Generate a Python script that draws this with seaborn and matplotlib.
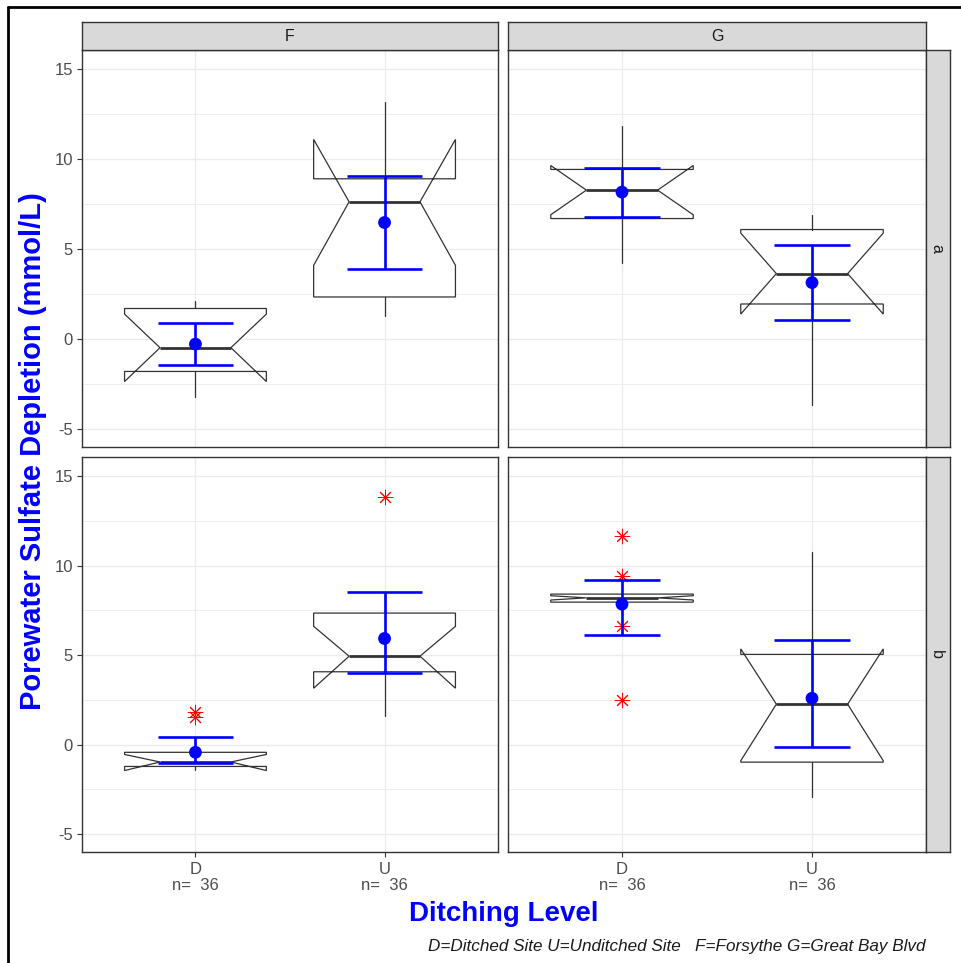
import numpy as np
import pandas as pd
import matplotlib
matplotlib.use("Agg")
import matplotlib.pyplot as plt
import seaborn as sns
from matplotlib.lines import Line2D
from matplotlib.ticker import MultipleLocator, FixedLocator

# ---------------- data ----------------
sites = ["F", "G"]            # facet columns
groups = ["a", "b"]           # facet rows
levels = ["D", "U"]           # x categories
n_obs = [36, 36]

# order: (a,F,D),(a,F,U),(a,G,D),(a,G,U),(b,F,D),(b,F,U),(b,G,D),(b,G,U)
panel_group = ["a", "a", "a", "a", "b", "b", "b", "b"]
panel_site = ["F", "F", "G", "G", "F", "F", "G", "G"]
panel_level = ["D", "U", "D", "U", "D", "U", "D", "U"]

whislo = [-3.23, 1.30, 4.23, -3.66, -1.40, 1.61, 7.96, -2.90]
q1 =     [-1.80, 2.34, 6.70, 1.95, -1.22, 4.07, 7.96, -0.98]
cilo =   [-2.36, 4.10, 6.91, 1.39, -1.45, 3.15, 8.08, -0.90]
median = [-0.48, 7.63, 8.28, 3.64, -0.97, 4.94, 8.20, 2.26]
cihi =   [1.39, 11.10, 9.65, 5.89, -0.55, 6.61, 8.32, 5.35]
q3 =     [1.70, 8.91, 9.43, 6.09, -0.43, 7.35, 8.41, 5.04]
whishi = [2.13, 13.18, 11.84, 6.89, 0.30, 8.30, 8.41, 10.78]
outliers = [[], [], [], [], [1.55, 1.82], [13.83], [11.65, 9.40, 6.65, 2.48], []]

mean_val = [-0.28, 6.48, 8.17, 3.14, -0.43, 5.93, 7.85, 2.59]
err_low =  [-1.43, 3.90, 6.76, 1.04, -1.00, 3.98, 6.13, -0.15]
err_high = [0.87, 9.08, 9.53, 5.25, 0.41, 8.52, 9.22, 5.82]

y_ticks = [-5, 0, 5, 10, 15]

df = pd.DataFrame({
    "group": panel_group, "site": panel_site, "level": panel_level,
    "whislo": whislo, "q1": q1, "cilo": cilo, "med": median, "cihi": cihi,
    "q3": q3, "whishi": whishi, "mean": mean_val, "lo": err_low, "hi": err_high,
})
df["fliers"] = outliers
df["pos"] = df["level"].map({lv: i + 1 for i, lv in enumerate(levels)})

# ---------------- styling ----------------
sns.set_theme(style="white")
plt.rcParams["font.family"] = ["Liberation Sans", "DejaVu Sans"]

W, H = 961, 963
fig = plt.figure(figsize=(W / 100, H / 100), dpi=100)


def rect(x0, y0, x1, y1):
    return [x0 / W, 1 - y1 / H, (x1 - x0) / W, (y1 - y0) / H]


col_px = {"F": (82, 498), "G": (508, 926)}
row_px = {"a": (50, 447), "b": (457, 852)}
EDGE = "#333333"
GRID = "#EBEBEB"
BLUE = "#0000FF"

for gi, g in enumerate(groups):
    for si, s in enumerate(sites):
        x0, x1 = col_px[s]
        y0, y1 = row_px[g]
        ax = fig.add_axes(rect(x0, y0, x1, y1))
        sub = df[(df["group"] == g) & (df["site"] == s)]

        stats = []
        for _, r in sub.iterrows():
            stats.append(dict(med=r["med"], q1=r["q1"], q3=r["q3"],
                              whislo=r["whislo"], whishi=r["whishi"],
                              cilo=r["cilo"], cihi=r["cihi"],
                              fliers=np.array(r["fliers"], dtype=float)))
        ax.bxp(stats, positions=list(sub["pos"]), widths=0.75,
               shownotches=True, showcaps=False, patch_artist=True,
               boxprops=dict(facecolor="white", edgecolor=EDGE, linewidth=0.9),
               whiskerprops=dict(color=EDGE, linewidth=0.9),
               medianprops=dict(color=EDGE, linewidth=2.0),
               flierprops=dict(marker=(8, 2, 0), markeredgecolor="red",
                               markerfacecolor="red", markersize=11,
                               markeredgewidth=0.7, linestyle="none"))

        # mean +/- error bars
        ax.vlines(sub["pos"], sub["lo"], sub["hi"], color=BLUE, lw=1.9, zorder=4)
        ax.hlines(sub["lo"], sub["pos"] - 0.2, sub["pos"] + 0.2, color=BLUE, lw=1.9, zorder=4)
        ax.hlines(sub["hi"], sub["pos"] - 0.2, sub["pos"] + 0.2, color=BLUE, lw=1.9, zorder=4)
        sns.scatterplot(data=sub, x="pos", y="mean", color=BLUE, s=85,
                        edgecolor="none", ax=ax, zorder=5, legend=False)

        ax.set_xlim(0.4, 2.6)
        ax.set_ylim(-6.0, 16.07)
        ax.set_xlabel("")
        ax.set_ylabel("")
        ax.set_facecolor("white")
        ax.set_axisbelow(True)
        ax.xaxis.set_major_locator(FixedLocator([1, 2]))
        ax.yaxis.set_major_locator(FixedLocator(y_ticks))
        ax.yaxis.set_minor_locator(MultipleLocator(2.5))
        ax.grid(which="major", color=GRID, lw=1.0)
        ax.grid(which="minor", axis="y", color=GRID, lw=0.6)
        for sp in ax.spines.values():
            sp.set_color(EDGE)
            sp.set_linewidth(1.0)
        ax.tick_params(which="minor", length=0)
        ax.tick_params(which="major", length=3.5, width=0.8, color=EDGE,
                       labelcolor="#4D4D4D", labelsize=12, pad=3)

        if si == 0:
            ax.set_yticks(y_ticks)
            ax.set_yticklabels([str(t) for t in y_ticks])
            ax.tick_params(axis="y", left=True, labelleft=True)
        else:
            ax.tick_params(axis="y", left=False, labelleft=False)
        if gi == 1:
            ax.set_xticks([1, 2])
            ax.set_xticklabels([f"{lv}\nn=  {n}" for lv, n in zip(levels, n_obs)],
                               linespacing=1.05)
            ax.tick_params(axis="x", bottom=True, labelbottom=True, pad=4)
        else:
            ax.tick_params(axis="x", bottom=False, labelbottom=False)

        # top strip
        if gi == 0:
            st = fig.add_axes(rect(x0, 22, x1, 50))
            st.set_facecolor("#D9D9D9")
            st.set_xticks([]); st.set_yticks([])
            for sp in st.spines.values():
                sp.set_color(EDGE); sp.set_linewidth(1.0)
            st.text(0.5, 0.5, s, ha="center", va="center", fontsize=11.5,
                    color="#1A1A1A", transform=st.transAxes)
        # right strip
        if si == 1:
            st = fig.add_axes(rect(926, y0, 950, y1))
            st.set_facecolor("#D9D9D9")
            st.set_xticks([]); st.set_yticks([])
            for sp in st.spines.values():
                sp.set_color(EDGE); sp.set_linewidth(1.0)
            st.text(0.45, 0.5, g, ha="center", va="center", fontsize=11.5,
                    rotation=-90, color="#1A1A1A", transform=st.transAxes)

# axis titles and caption
fig.text(33 / W, 1 - 451 / H, "Porewater Sulfate Depletion (mmol/L)", rotation=90,
         ha="center", va="center", color=BLUE, fontsize=21, fontweight="bold")
fig.text(504 / W, 1 - 914 / H, "Ditching Level", ha="center", va="center",
         color=BLUE, fontsize=20, fontweight="bold")
fig.text(926 / W, 1 - 946 / H,
         "D=Ditched Site U=Unditched Site   F=Forsythe G=Great Bay Blvd",
         ha="right", va="center", fontsize=12.3, style="italic", color="#1A1A1A")

# outer frame
fig.add_artist(Line2D([8 / W, 1.0], [1 - 7 / H, 1 - 7 / H], transform=fig.transFigure,
                      color="black", lw=2))
fig.add_artist(Line2D([8 / W, 8 / W], [1 - 7 / H, 0.0], transform=fig.transFigure,
                      color="black", lw=2))

fig.savefig("out.png", dpi=100, facecolor="white")
